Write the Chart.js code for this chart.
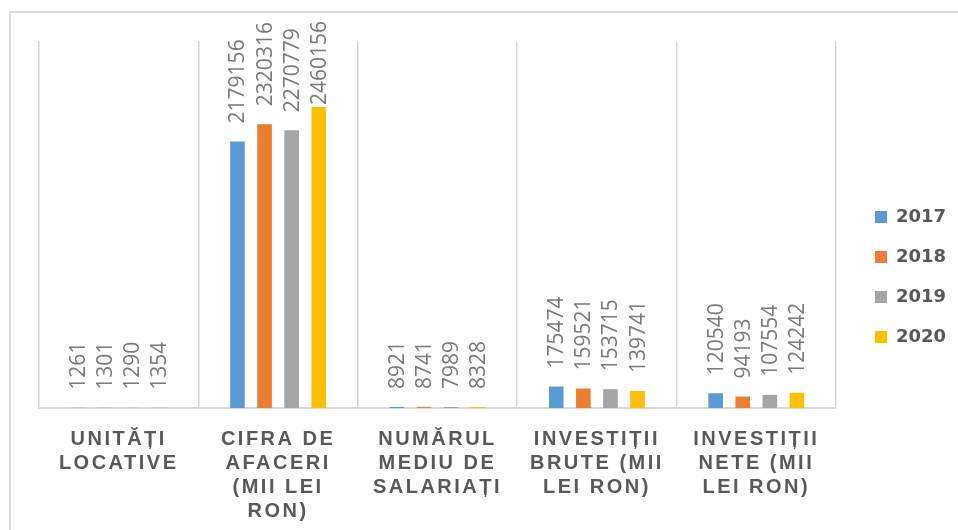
<!DOCTYPE html>
<html>
<head>
<meta charset="utf-8">
<script src="https://cdn.jsdelivr.net/npm/chart.js@4.4.1/dist/chart.umd.min.js"></script>
<style>
  html, body { margin: 0; padding: 0; background: #fff; }
  #wrap { width: 958px; height: 530px; position: relative; }
</style>
</head>
<body>
<div id="wrap"><canvas id="grafic"></canvas></div>
<script>
// Date
const categorii = [
    ['UNITĂȚI', 'LOCATIVE'],
    ['CIFRA DE', 'AFACERI', '(MII LEI', 'RON)'],
    ['NUMĂRUL', 'MEDIU DE', 'SALARIAȚI'],
    ['INVESTIȚII', 'BRUTE (MII', 'LEI RON)'],
    ['INVESTIȚII', 'NETE (MII', 'LEI RON)']
];
const ani = ['2017', '2018', '2019', '2020'];
const valori2017 = [1261, 2179156, 8921, 175474, 120540];
const valori2018 = [1301, 2320316, 8741, 159521, 94193];
const valori2019 = [1290, 2270779, 7989, 153715, 107554];
const valori2020 = [1354, 2460156, 8328, 139741, 124242];
const culori = ['#5B9BD5', '#ED7D31', '#A5A5A5', '#FFC000'];
const yMax = 3000000;

// chenarul exterior
const chenar = {
    id: 'chenar',
    beforeDraw(chart) {
        const c = chart.ctx;
        c.save();
        c.strokeStyle = '#d9d9d9';
        c.lineWidth = 2;
        c.strokeRect(10, 12, chart.width + 20, chart.height + 20);
        c.restore();
    }
};

// spatiere intre litere pentru etichetele categoriilor
const literaRara = {
    id: 'literaRara',
    beforeDraw(chart) {
        const sc = chart.scales.x;
        if (sc._rar) return;
        const orig = sc.drawLabels;
        sc.drawLabels = function (area) {
            const c = this.ctx;
            c.save();
            c.letterSpacing = '2.5px';
            orig.call(this, area);
            c.restore();
        };
        sc._rar = true;
    }
};

// etichete verticale deasupra barelor
const etichete = {
    id: 'etichete',
    afterDatasetsDraw(chart) {
        const c = chart.ctx;
        c.save();
        c.font = '21px "Open Sans"';
        c.fillStyle = '#7a7a7a';
        c.textAlign = 'left';
        c.textBaseline = 'middle';
        chart.data.datasets.forEach((ds, i) => {
            chart.getDatasetMeta(i).data.forEach((bar, j) => {
                const txt = String(ds.data[j]);
                const w = c.measureText(txt).width;
                let start = bar.y - 18;
                if (start - w < 21) start = 21 + w;
                c.save();
                c.translate(bar.x, start);
                c.rotate(-Math.PI / 2);
                c.fillText(txt, 0, 1);
                c.restore();
            });
        });
        c.restore();
    }
};

const ctx = document.getElementById('grafic').getContext('2d');
const grafic = new Chart(ctx, {
    type: 'bar',
    data: {
        labels: categorii,
        datasets: [valori2017, valori2018, valori2019, valori2020].map((v, i) => ({
            label: ani[i],
            data: v,
            backgroundColor: culori[i],
            borderWidth: 0,
            categoryPercentage: 0.68,
            barPercentage: 0.54
        }))
    },
    options: {
        responsive: true,
        maintainAspectRatio: false,
        animation: false,
        layout: { padding: { left: 39, top: 41, right: 12, bottom: 0 } },
        plugins: {
            legend: {
                position: 'right',
                align: 'start',
                maxWidth: 93,
                title: {
                    display: true,
                    text: '',
                    font: { size: 10, lineHeight: 1 },
                    padding: { top: 135, bottom: 0 }
                },
                labels: {
                    boxWidth: 12,
                    boxHeight: 12,
                    padding: 22,
                    color: '#595959',
                    font: { family: '"DejaVu Sans"', size: 18, weight: 'bold' }
                }
            },
            tooltip: { enabled: false }
        },
        scales: {
            x: {
                grid: { color: '#d9d9d9', lineWidth: 1.5, drawTicks: false, offset: true },
                border: { color: '#d9d9d9', width: 2 },
                ticks: {
                    color: '#595959',
                    padding: 20,
                    maxRotation: 0,
                    autoSkip: false,
                    font: { family: '"Liberation Sans"', size: 20, weight: 'bold', lineHeight: 1.19 }
                },
                afterFit(s) { s.height = 122; }
            },
            y: {
                position: 'right',
                min: 0,
                max: yMax,
                grid: { display: false },
                border: { display: false },
                ticks: { display: false },
                afterFit(s) { s.width = 17; }
            }
        }
    },
    plugins: [chenar, literaRara, etichete]
});
</script>
</body>
</html>
